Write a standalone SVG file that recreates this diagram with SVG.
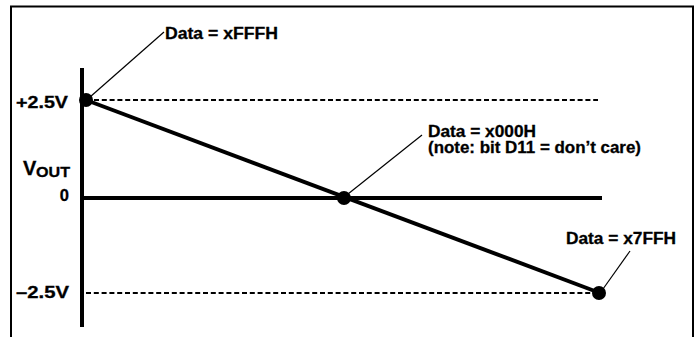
<svg xmlns="http://www.w3.org/2000/svg" width="699" height="337" viewBox="0 0 699 337">
<style>
text{font-family:"Liberation Sans",Arial,sans-serif;font-weight:bold;fill:#000;stroke:#000;stroke-width:0.3}
.lbl{font-size:16px}
.ax{font-size:16.5px}
.dash{stroke:#000;stroke-width:2;stroke-dasharray:5 2.8;fill:none}
.thick{stroke:#000;stroke-width:4;fill:none}
.lead{stroke:#000;stroke-width:1.2;fill:none}
.dot{fill:#000}
</style>
<rect width="699" height="337" fill="#fff"/>
<path d="M11,340 V6.5 H693 V340" fill="none" stroke="#000" stroke-width="2"/>
<g id="axes">
<line class="thick" x1="82" y1="68" x2="82" y2="327"/>
<line class="thick" x1="82" y1="198" x2="602" y2="198"/>
<text class="ax" x="68" y="108" text-anchor="end" textLength="52" lengthAdjust="spacingAndGlyphs">+2.5V</text>
<text class="ax" x="69" y="201" text-anchor="end">0</text>
<text x="23" y="175" style="font-size:20px">V</text>
<text x="36" y="177" style="font-size:14.5px" textLength="34" lengthAdjust="spacingAndGlyphs">OUT</text>
<text class="ax" x="69" y="298" text-anchor="end" textLength="53" lengthAdjust="spacingAndGlyphs">–2.5V</text>
</g>
<g id="connectors">
<line class="dash" x1="94" y1="100" x2="598" y2="100"/>
<line class="dash" x1="86" y1="293" x2="592" y2="293"/>
<line class="thick" x1="86" y1="100" x2="600" y2="293"/>
<line class="lead" x1="90" y1="97" x2="164" y2="32"/>
<line class="lead" x1="348" y1="194" x2="422" y2="135"/>
<line class="lead" x1="603" y1="289" x2="630" y2="251"/>
</g>
<g id="node-top">
<circle class="dot" cx="86" cy="100" r="7"/>
<text class="lbl" x="165" y="39" textLength="113" lengthAdjust="spacingAndGlyphs">Data = xFFFH</text>
</g>
<g id="node-mid">
<circle class="dot" cx="344" cy="198" r="7"/>
<text class="lbl" x="428" y="137" textLength="108" lengthAdjust="spacingAndGlyphs">Data = x000H</text>
<text class="lbl" x="428" y="153" textLength="213" lengthAdjust="spacingAndGlyphs">(note: bit D11 = don’t care)</text>
</g>
<g id="node-end">
<circle class="dot" cx="599" cy="293" r="7"/>
<text class="lbl" x="566" y="244" textLength="110" lengthAdjust="spacingAndGlyphs">Data = x7FFH</text>
</g>
</svg>
